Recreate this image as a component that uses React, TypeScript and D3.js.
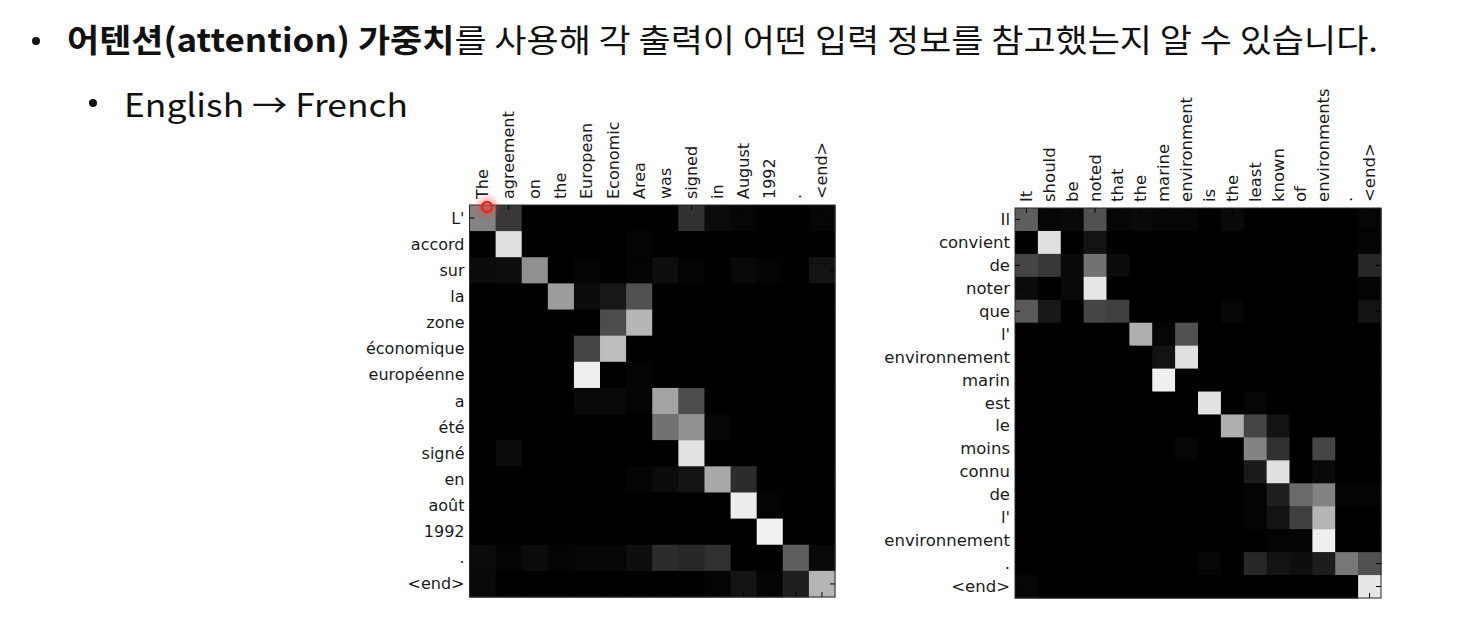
import React from "react";
import * as d3 from "d3";

// source words (columns) and target words (rows)
const enFrCols = ["The", "agreement", "on", "the", "European", "Economic", "Area", "was", "signed", "in", "August", "1992", ".", "<end>"];
const enFrRows = ["L'", "accord", "sur", "la", "zone", "économique", "européenne", "a", "été", "signé", "en", "août", "1992", ".", "<end>"];
const enFrWeights = [
  [0.55, 0.25, 0.02, 0.02, 0.02, 0.02, 0.03, 0.02, 0.22, 0.07, 0.05, 0.03, 0.03, 0.05],
  [0.02, 0.92, 0.01, 0.01, 0.01, 0.02, 0.04, 0.01, 0.03, 0.01, 0.01, 0.01, 0.01, 0.02],
  [0.07, 0.08, 0.6, 0.02, 0.04, 0.03, 0.04, 0.08, 0.04, 0.03, 0.06, 0.04, 0.02, 0.1],
  [0, 0, 0.01, 0.65, 0.07, 0.12, 0.35, 0.01, 0, 0, 0, 0, 0, 0.01],
  [0, 0, 0, 0.02, 0.03, 0.33, 0.75, 0.02, 0.02, 0, 0, 0, 0, 0],
  [0, 0, 0, 0.01, 0.3, 0.78, 0.02, 0, 0, 0, 0, 0, 0, 0],
  [0, 0, 0, 0, 0.98, 0.03, 0.04, 0.01, 0, 0, 0, 0, 0, 0],
  [0.01, 0.01, 0.02, 0.02, 0.06, 0.06, 0.04, 0.68, 0.33, 0.02, 0.01, 0.01, 0.01, 0.01],
  [0.01, 0.01, 0.01, 0.01, 0.02, 0.02, 0.02, 0.48, 0.6, 0.05, 0.02, 0.02, 0.02, 0.02],
  [0.01, 0.07, 0.01, 0.01, 0.01, 0.01, 0.01, 0.01, 0.93, 0.01, 0.01, 0.01, 0.01, 0.01],
  [0.01, 0.01, 0.01, 0.01, 0.02, 0.02, 0.04, 0.07, 0.1, 0.7, 0.2, 0.03, 0.02, 0.03],
  [0, 0, 0, 0, 0, 0, 0, 0.01, 0.01, 0.01, 0.97, 0.04, 0.01, 0.01],
  [0, 0, 0, 0, 0, 0, 0, 0, 0, 0, 0.01, 0.99, 0.01, 0.01],
  [0.07, 0.04, 0.07, 0.04, 0.05, 0.05, 0.08, 0.2, 0.18, 0.22, 0.03, 0.02, 0.4, 0.06],
  [0.06, 0.02, 0.02, 0.01, 0.01, 0.01, 0.02, 0.02, 0.02, 0.04, 0.1, 0.04, 0.15, 0.75],
];

const marineCols = ["It", "should", "be", "noted", "that", "the", "marine", "environment", "is", "the", "least", "known", "of", "environments", ".", "<end>"];
const marineRows = ["Il", "convient", "de", "noter", "que", "l'", "environnement", "marin", "est", "le", "moins", "connu", "de", "l'", "environnement", ".", "<end>"];
const marineWeights = [
  [0.4, 0.05, 0.06, 0.35, 0.05, 0.06, 0.05, 0.05, 0.03, 0.06, 0.02, 0.02, 0.02, 0.02, 0.02, 0.05],
  [0.03, 0.92, 0.02, 0.1, 0.02, 0.02, 0.02, 0.02, 0.02, 0.02, 0.02, 0.02, 0.02, 0.02, 0.02, 0.04],
  [0.3, 0.25, 0.06, 0.48, 0.07, 0.02, 0.02, 0.02, 0.01, 0.02, 0.01, 0.01, 0.01, 0.01, 0.01, 0.18],
  [0.07, 0.02, 0.06, 0.95, 0.02, 0.01, 0.01, 0.01, 0.01, 0.01, 0.01, 0.01, 0.01, 0.01, 0.01, 0.04],
  [0.38, 0.12, 0.03, 0.3, 0.28, 0.03, 0.02, 0.02, 0.02, 0.05, 0.02, 0.02, 0.02, 0.02, 0.02, 0.1],
  [0, 0, 0, 0, 0.01, 0.72, 0.05, 0.35, 0.02, 0.01, 0.01, 0, 0, 0, 0, 0],
  [0, 0, 0, 0, 0, 0.02, 0.1, 0.92, 0.02, 0.01, 0.01, 0.01, 0.01, 0.03, 0, 0],
  [0, 0, 0, 0, 0, 0.01, 0.98, 0.03, 0.01, 0.01, 0.01, 0.01, 0, 0.01, 0, 0],
  [0, 0, 0, 0, 0, 0, 0.01, 0.02, 0.93, 0.01, 0.05, 0.01, 0.01, 0.01, 0, 0],
  [0, 0, 0, 0.03, 0, 0, 0.01, 0.01, 0.01, 0.72, 0.3, 0.1, 0.01, 0.01, 0, 0],
  [0, 0, 0, 0, 0, 0, 0, 0.05, 0.01, 0.02, 0.55, 0.22, 0.01, 0.3, 0, 0],
  [0, 0, 0, 0, 0, 0, 0, 0, 0, 0.01, 0.13, 0.92, 0.01, 0.06, 0, 0],
  [0, 0, 0, 0, 0, 0, 0, 0, 0, 0.01, 0.04, 0.15, 0.45, 0.55, 0.04, 0.04],
  [0, 0, 0, 0, 0, 0, 0, 0, 0, 0.01, 0.04, 0.1, 0.28, 0.75, 0.02, 0.01],
  [0, 0, 0, 0, 0, 0, 0, 0, 0, 0.01, 0.03, 0.04, 0.04, 0.98, 0.01, 0.01],
  [0, 0, 0, 0, 0, 0, 0.03, 0.01, 0.05, 0.01, 0.18, 0.1, 0.08, 0.14, 0.5, 0.35],
  [0.05, 0.01, 0.01, 0, 0, 0, 0, 0, 0, 0, 0, 0.01, 0.01, 0.01, 0.01, 0.95],
];

const labelFont = "'DejaVu Sans', sans-serif";
const koFont = "'Noto Sans CJK KR', 'Noto Sans', sans-serif";

// matplotlib "gray" colormap; the tiniest weights stay black
const gray = d3.scaleLinear<string>().domain([0.025, 1]).range(["#000000", "#f4f4f4"]).clamp(true);

interface HeatmapProps {
  x0: number;
  y0: number;
  width: number;
  height: number;
  cols: string[];
  rows: string[];
  weights: number[][];
  fontSize: number;
}

function Heatmap({ x0, y0, width, height, cols, rows, weights, fontSize }: HeatmapProps) {
  const x = d3.scaleBand<number>().domain(d3.range(cols.length)).range([x0, x0 + width]);
  const y = d3.scaleBand<number>().domain(d3.range(rows.length)).range([y0, y0 + height]);
  const tick = 5;

  return (
    <g>
      <rect x={x0} y={y0} width={width} height={height} fill="#000" />
      {weights.map((row, r) =>
        row.map((v, c) => (
          <rect
            key={`${r}-${c}`}
            x={x(c)!}
            y={y(r)!}
            width={x.bandwidth() + 0.5}
            height={y.bandwidth() + 0.5}
            fill={gray(v)}
          />
        ))
      )}
      {/* ticks pointing inward on all four sides */}
      {cols.map((_, c) => {
        const cx = x(c)! + x.bandwidth() / 2;
        return (
          <g key={`xt${c}`} stroke="#000" strokeWidth={1}>
            <line x1={cx} x2={cx} y1={y0} y2={y0 + tick} />
            <line x1={cx} x2={cx} y1={y0 + height} y2={y0 + height - tick} />
          </g>
        );
      })}
      {rows.map((_, r) => {
        const cy = y(r)! + y.bandwidth() / 2;
        return (
          <g key={`yt${r}`} stroke="#000" strokeWidth={1}>
            <line x1={x0} x2={x0 + tick} y1={cy} y2={cy} />
            <line x1={x0 + width} x2={x0 + width - tick} y1={cy} y2={cy} />
          </g>
        );
      })}
      <rect x={x0} y={y0} width={width} height={height} fill="none" stroke="#2a2a2a" strokeWidth={1} />
      {cols.map((label, c) => (
        <text
          key={`xl${c}`}
          transform={`translate(${x(c)! + x.bandwidth() / 2},${y0 - 6}) rotate(-90)`}
          dominantBaseline="central"
          textAnchor="start"
          fontFamily={labelFont}
          fontSize={fontSize}
          fill="#1a1a1a"
        >
          {label}
        </text>
      ))}
      {rows.map((label, r) => (
        <text
          key={`yl${r}`}
          x={x0 - 5}
          y={y(r)! + y.bandwidth() / 2}
          dominantBaseline="central"
          textAnchor="end"
          fontFamily={labelFont}
          fontSize={fontSize}
          fill="#1a1a1a"
        >
          {label}
        </text>
      ))}
    </g>
  );
}

export default function App() {
  return (
    <div style={{ position: "absolute", left: 0, top: 0 }}>
      <svg width={1470} height={626} style={{ display: "block", background: "#fff" }}>
        <defs>
          <radialGradient id="glow">
            <stop offset="0%" stopColor="#ff3b30" stopOpacity={0.6} />
            <stop offset="100%" stopColor="#ff3b30" stopOpacity={0} />
          </radialGradient>
        </defs>

        {/* headline bullets */}
        <circle cx={36} cy={41} r={4} fill="#111" />
        <text
          x={67}
          y={52}
          fontFamily={koFont}
          fontSize={32}
          fill="#111"
          textLength={1311}
          lengthAdjust="spacingAndGlyphs"
        >
          <tspan fontWeight={700}>어텐션(attention) 가중치</tspan>
          <tspan>를 사용해 각 출력이 어떤 입력 정보를 참고했는지 알 수 있습니다.</tspan>
        </text>
        <circle cx={93} cy={103} r={4} fill="#111" />
        <text
          x={124}
          y={117}
          fontFamily={koFont}
          fontSize={32}
          fill="#111"
          textLength={284}
          lengthAdjust="spacingAndGlyphs"
        >
          English → French
        </text>

        <Heatmap x0={469.5} y0={205} width={365.5} height={392} cols={enFrCols} rows={enFrRows} weights={enFrWeights} fontSize={16} />
        <Heatmap x0={1015} y0={208} width={366} height={390} cols={marineCols} rows={marineRows} weights={marineWeights} fontSize={16.5} />

        {/* pointer highlight from the recording */}
        <circle cx={487} cy={207} r={14} fill="url(#glow)" />
        <circle cx={487} cy={207} r={5} fill="none" stroke="#e8281e" strokeWidth={2.5} />
      </svg>
    </div>
  );
}
